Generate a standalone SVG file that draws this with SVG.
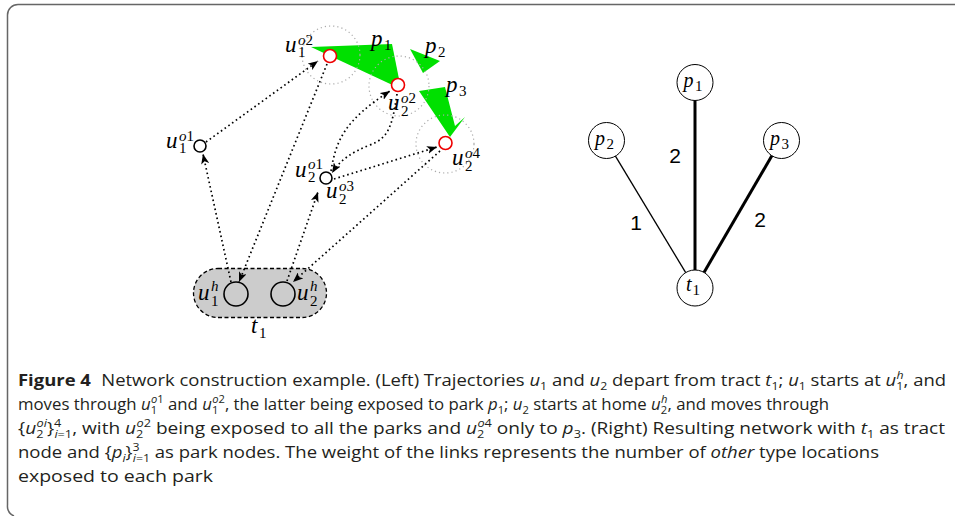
<svg xmlns="http://www.w3.org/2000/svg" width="955" height="516" viewBox="0 0 955 516">
<defs>
<style>
.m{font-family:"Liberation Serif","DejaVu Serif",serif;font-style:italic;font-size:23px;fill:#000}
.s{font-family:"Liberation Serif","DejaVu Serif",serif;font-style:normal;font-size:15px;fill:#000}
.it{font-style:italic}
.traj{fill:none;stroke:#000;stroke-width:1.7;stroke-dasharray:1.6 3;marker-end:url(#ah)}
.zone{fill:none;stroke:#aaa;stroke-width:1.2;stroke-dasharray:1.2 3}
.park{fill:#00e000;stroke:none}
.red{fill:#fff;stroke:#e00;stroke-width:1.6}
.blk{fill:#fff;stroke:#000;stroke-width:1.6}
.gn{fill:#fff;stroke:#000;stroke-width:1}
.np{font-family:"Liberation Serif","DejaVu Serif",serif;font-style:italic;font-size:20px;fill:#000}
.w{font-family:"Liberation Sans",Arial,sans-serif;font-size:21px;fill:#000;text-anchor:middle}
.cap{font-family:"Open Sans","Liberation Sans",sans-serif;font-size:16.5px;fill:#231f20}
.ci{font-style:italic}
.sb{font-size:11px}
</style>
<marker id="ah" viewBox="0 0 10 8" refX="10" refY="4" markerWidth="10" markerHeight="8" markerUnits="userSpaceOnUse" orient="auto">
<path d="M0,0 L10,4 L0,8 L2.5,4 z" fill="#000"/>
</marker>
</defs>
<rect x="0" y="0" width="955" height="516" fill="#fff"/>
<path d="M955,4.5 H18 A10.5,10.5 0 0 0 7.5,15 V505 A11,11 0 0 0 14,516" fill="none" stroke="#666" stroke-width="1.5"/>

<g id="parks-left">
<polygon class="park" points="311,47 392,44 401,89"/>
<polygon class="park" points="410,49 440,61 423,73"/>
<polygon class="park" points="419,91 445,87 455,126 465,117 450,137"/>
<text class="m" x="371" y="46">p</text><text class="s" x="384" y="50">1</text>
<text class="m" x="425" y="53">p</text><text class="s" x="438" y="57">2</text>
<text class="m" x="446" y="92">p</text><text class="s" x="459" y="96">3</text>
</g>

<g id="zones">
<circle class="zone" cx="331" cy="55" r="29"/>
<circle class="zone" cx="399" cy="86" r="30"/>
<circle class="zone" cx="445" cy="144" r="29"/>
</g>

<g id="node-tract">
<rect x="193.5" y="268.5" width="133" height="49" rx="24.5" fill="#ccc" stroke="#000" stroke-width="1.3" stroke-dasharray="4 2.5"/>
<text class="m" x="251" y="333">t</text><text class="s" x="259" y="338">1</text>
</g>

<g id="connectors">
<path class="traj" d="M231,282 L203,154"/>
<path class="traj" d="M206,142 L318,61"/>
<path class="traj" d="M327,64 L239,282"/>
<path class="traj" d="M287,281 L318,192"/>
<path class="traj" d="M331,171 C336,140 345,120 390,91"/>
<path class="traj" d="M397,94 C392,128 388,138 370,145 C352,152 340,160 332,173"/>
<path class="traj" d="M334,179 L437,147"/>
<path class="traj" d="M440,151 L293,282"/>
</g>

<g id="node-u1h">
<circle cx="236" cy="294" r="12" fill="none" stroke="#000" stroke-width="1.6"/>
<text class="m" x="198" y="300">u</text><text class="s it" x="211" y="291">h</text><text class="s" x="211" y="306">1</text>
</g>
<g id="node-u2h">
<circle cx="283" cy="294" r="12" fill="none" stroke="#000" stroke-width="1.6"/>
<text class="m" x="297" y="300">u</text><text class="s it" x="310" y="291">h</text><text class="s" x="310" y="306">2</text>
</g>
<g id="node-u1o1">
<circle class="blk" cx="200" cy="146" r="6"/>
<text class="m" x="166" y="148">u</text><text class="s" x="179" y="141"><tspan class="it">o</tspan>1</text><text class="s" x="179" y="153">1</text>
</g>
<g id="node-u1o2">
<circle class="red" cx="330" cy="56" r="6.5"/>
<text class="m" x="285" y="52">u</text><text class="s" x="298" y="45"><tspan class="it">o</tspan>2</text><text class="s" x="298" y="57">1</text>
</g>
<g id="node-u2o1">
<circle class="blk" cx="326" cy="178" r="6"/>
<text class="m" x="295" y="177">u</text><text class="s" x="308" y="169"><tspan class="it">o</tspan>1</text><text class="s" x="308" y="182">2</text>
</g>
<g id="node-u2o3">
<text class="m" x="326" y="198">u</text><text class="s" x="339" y="191"><tspan class="it">o</tspan>3</text><text class="s" x="339" y="204">2</text>
</g>
<g id="node-u2o2">
<circle class="red" cx="398" cy="85" r="6.5"/>
<text class="m" x="388" y="110">u</text><text class="s" x="401" y="103"><tspan class="it">o</tspan>2</text><text class="s" x="401" y="116">2</text>
</g>
<g id="node-u2o4">
<circle class="red" cx="445.5" cy="143" r="6.5"/>
<text class="m" x="452" y="165">u</text><text class="s" x="465" y="158"><tspan class="it">o</tspan>4</text><text class="s" x="465" y="171">2</text>
</g>

<g id="edges-right">
<line x1="695" y1="100.5" x2="695" y2="270" stroke="#000" stroke-width="3"/>
<line x1="772" y1="155.6" x2="704" y2="272.4" stroke="#000" stroke-width="3"/>
<line x1="615.3" y1="155.9" x2="685.7" y2="272.6" stroke="#000" stroke-width="1.3"/>
<text class="w" x="675" y="163">2</text>
<text class="w" x="636" y="230">1</text>
<text class="w" x="760" y="227">2</text>
</g>
<g id="net-p1"><circle class="gn" cx="695" cy="82.5" r="18"/><text class="np" x="683.5" y="87">p</text><text class="s" x="695" y="91">1</text></g>
<g id="net-p2"><circle class="gn" cx="606.5" cy="140.5" r="18"/><text class="np" x="595" y="145">p</text><text class="s" x="606.5" y="149">2</text></g>
<g id="net-p3"><circle class="gn" cx="781.5" cy="140.5" r="18"/><text class="np" x="770" y="145">p</text><text class="s" x="781.5" y="149">3</text></g>
<g id="net-t1"><circle class="gn" cx="695" cy="288" r="18"/><text class="np" x="686" y="291">t</text><text class="s" x="692.5" y="295">1</text></g>

<g id="caption" class="cap">
<text x="18" y="386" textLength="928" lengthAdjust="spacingAndGlyphs"><tspan font-weight="bold">Figure 4</tspan><tspan dx="5"> Network construction example. (Left) Trajectories </tspan><tspan class="ci">u</tspan><tspan class="sb" dy="4">1</tspan><tspan dy="-4"> and </tspan><tspan class="ci">u</tspan><tspan class="sb" dy="4">2</tspan><tspan dy="-4"> depart from tract </tspan><tspan class="ci">t</tspan><tspan class="sb" dy="4">1</tspan><tspan dy="-4">; </tspan><tspan class="ci">u</tspan><tspan class="sb" dy="4">1</tspan><tspan dy="-4"> starts at </tspan><tspan class="ci">u</tspan><tspan class="sb" dy="4">1</tspan><tspan class="sb ci" dx="-6" dy="-11">h</tspan><tspan dy="7">, and</tspan></text>
<text x="18" y="410" textLength="811" lengthAdjust="spacingAndGlyphs">moves through <tspan class="ci">u</tspan><tspan class="sb" dy="4">1</tspan><tspan class="sb" dx="-6" dy="-11"><tspan class="ci">o</tspan>1</tspan><tspan dy="7"> and </tspan><tspan class="ci">u</tspan><tspan class="sb" dy="4">1</tspan><tspan class="sb" dx="-6" dy="-11"><tspan class="ci">o</tspan>2</tspan><tspan dy="7">, the latter being exposed to park </tspan><tspan class="ci">p</tspan><tspan class="sb" dy="4">1</tspan><tspan dy="-4">; </tspan><tspan class="ci">u</tspan><tspan class="sb" dy="4">2</tspan><tspan dy="-4"> starts at home </tspan><tspan class="ci">u</tspan><tspan class="sb" dy="4">2</tspan><tspan class="sb ci" dx="-6" dy="-11">h</tspan><tspan dy="7">, and moves through</tspan></text>
<text x="18" y="434" textLength="927" lengthAdjust="spacingAndGlyphs">{<tspan class="ci">u</tspan><tspan class="sb" dy="4">2</tspan><tspan class="sb ci" dx="-6" dy="-11">oi</tspan><tspan dy="7">}</tspan><tspan class="sb" dy="-7">4</tspan><tspan class="sb" dx="-6" dy="11"><tspan class="ci">i</tspan>=1</tspan><tspan dy="-4">, with </tspan><tspan class="ci">u</tspan><tspan class="sb" dy="4">2</tspan><tspan class="sb" dx="-6" dy="-11"><tspan class="ci">o</tspan>2</tspan><tspan dy="7"> being exposed to all the parks and </tspan><tspan class="ci">u</tspan><tspan class="sb" dy="4">2</tspan><tspan class="sb" dx="-6" dy="-11"><tspan class="ci">o</tspan>4</tspan><tspan dy="7"> only to </tspan><tspan class="ci">p</tspan><tspan class="sb" dy="4">3</tspan><tspan dy="-4">. (Right) Resulting network with </tspan><tspan class="ci">t</tspan><tspan class="sb" dy="4">1</tspan><tspan dy="-4"> as tract</tspan></text>
<text x="18" y="458" textLength="861" lengthAdjust="spacingAndGlyphs">node and {<tspan class="ci">p</tspan><tspan class="sb ci" dy="4">i</tspan><tspan dy="-4">}</tspan><tspan class="sb" dy="-7">3</tspan><tspan class="sb" dx="-6" dy="11"><tspan class="ci">i</tspan>=1</tspan><tspan dy="-4"> as park nodes. The weight of the links represents the number of </tspan><tspan class="ci">other</tspan> type locations</text>
<text x="18" y="482" textLength="195" lengthAdjust="spacingAndGlyphs">exposed to each park</text>
</g>
</svg>
